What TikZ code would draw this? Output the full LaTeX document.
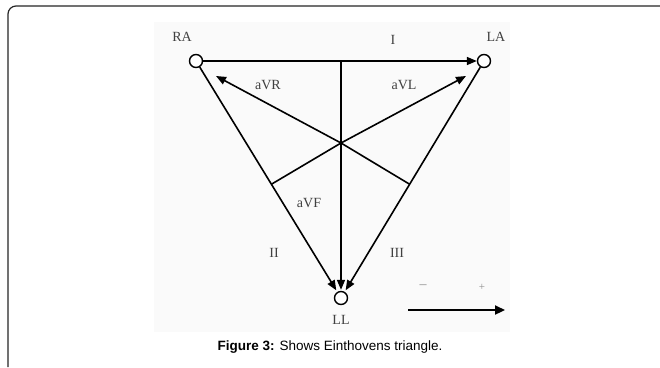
\documentclass[tikz,border=0pt]{standalone}
\usepackage{fontspec}
\setmainfont{Liberation Serif}
\newfontfamily\capfont{Liberation Sans}
\usetikzlibrary{arrows.meta,calc}
\begin{document}
\begin{tikzpicture}[x=1pt,y=-1pt,
  lead/.style={draw=black,line width=1.4pt,circle,minimum size=13pt,inner sep=0pt,fill=white},
  vec/.style={line width=1.6pt,-{Triangle[length=10pt,width=8pt]}},
  seg/.style={line width=1.6pt},
  lbl/.style={font=\fontsize{14}{16}\selectfont,text=black!75,inner sep=0pt}]
\useasboundingbox (0,0) rectangle (660,367);
\fill[white] (0,0) rectangle (660,367);
\draw[line width=1.2pt,black!85,rounded corners=8pt] (8,367) -- (8,6) -- (660,6);
\fill[black!2] (154,22) rectangle (510,332);
% nodes
\node[lead] (RA) at (196,61) {};
\node[lead] (LA) at (484,61) {};
\node[lead] (LL) at (341,298) {};
\coordinate (C) at (341,143);
\coordinate (T) at (341,61);
\coordinate (ML) at ($(RA)!0.52!(LL)$);
\coordinate (MR) at ($(LA)!0.52!(LL)$);
\coordinate (aVRt) at (216,76);
\coordinate (aVLt) at (466,76);
% labels
\node[lbl] (lRA) at (182,37) {RA};
\node[lbl] (lLA) at (496,37) {LA};
\node[lbl] (lLL) at (341,320) {LL};
\node[lbl] (lI) at (393,40) {I};
\node[lbl] (laVR) at (268,85) {aVR};
\node[lbl] (laVL) at (404,85) {aVL};
\node[lbl] (laVF) at (309,203) {aVF};
\node[lbl] (lII) at (274,253) {II};
\node[lbl] (lIII) at (397,253) {III};
% lead I
\draw[vec] (RA) -- (LA.west);
% sides II and III
\draw[vec] (RA) -- ($(LL)!9pt!(RA)$);
\draw[vec] (LA) -- ($(LL)!9pt!(LA)$);
% aVF
\draw[vec] (T) -- ($(LL.north)+(0,-1)$);
% aVR and aVL
\draw[vec] (C) -- (aVRt);
\draw[vec] (C) -- (aVLt);
% lines to midpoints
\draw[seg] (C) -- (ML);
\draw[seg] (C) -- (MR);
% legend
\node[lbl,text=black!45] (minus) at (423,287) {--};
\node[lbl,text=black!45,font=\fontsize{11}{12}\selectfont] (plus) at (482,287) {+};
\coordinate (la) at (408,310);
\coordinate (lb) at (505,310);
\draw[line width=2.2pt,-{Triangle[length=10pt,width=9pt]}] (la) -- (lb);
% caption
\node[font=\capfont\fontsize{13.5}{16}\selectfont,inner sep=0pt] (cap) at (330,347) {\textbf{Figure 3:} Shows Einthovens triangle.};
\end{tikzpicture}
\end{document}
